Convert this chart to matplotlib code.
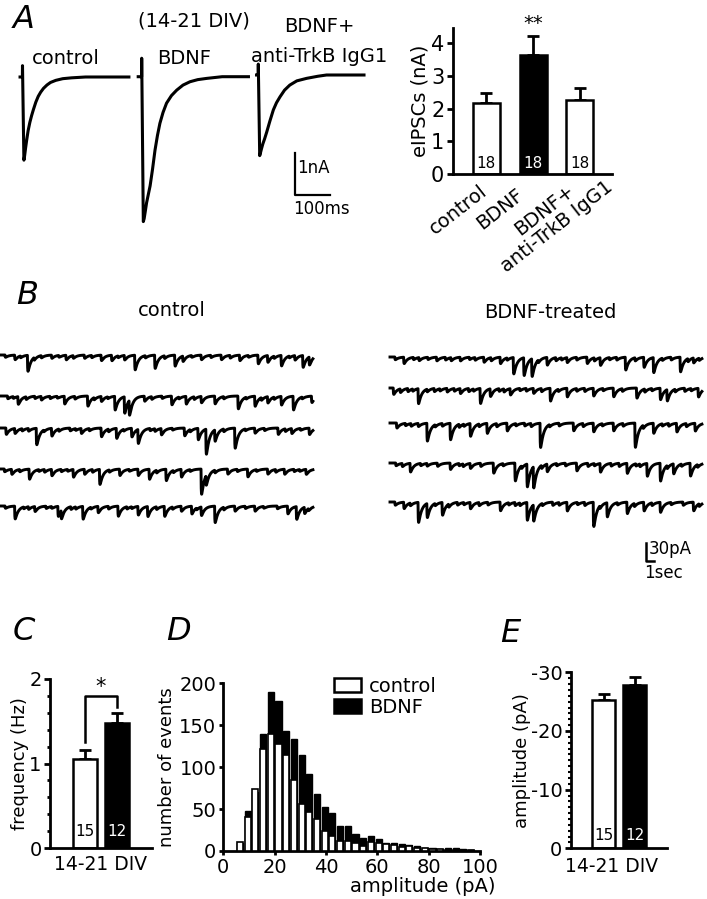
import numpy as np
import matplotlib

matplotlib.use("Agg")
import matplotlib.pyplot as plt
from matplotlib.patches import Patch
from matplotlib.ticker import MultipleLocator

plt.rcParams["font.family"] = ["DejaVu Sans"]

W, H = 707, 899

# ---- panel A: evoked IPSC traces (ms from stimulus, nA from baseline) ----
ctrl_trace_t = [-7, -0.3, 0, 4, 6, 9, 12, 16, 21, 26, 31, 38, 45, 52, 60, 70, 80, 95, 115, 140, 180, 240, 304]
ctrl_trace_i = [0, 0, 0.27, -1.98, -1.88, -1.68, -1.5, -1.28, -1.08, -0.92, -0.78, -0.6, -0.46, -0.36,
                -0.27, -0.19, -0.13, -0.08, -0.04, -0.02, 0, 0, 0]
bdnf_trace_t = [-10, -0.3, 0, 4.6, 7, 10, 14, 19, 24, 31, 38, 45, 52, 61, 71, 85, 100, 118, 138, 160, 186, 230, 305]
bdnf_trace_i = [0, 0, 0.44, -3.45, -3.38, -3.22, -3.0, -2.8, -2.6, -2.2, -1.75, -1.4, -1.11, -0.85, -0.63,
                -0.45, -0.32, -0.2, -0.12, -0.07, -0.04, 0, 0]
trkb_trace_t = [-5, -0.3, 0, 4, 6, 9, 13, 18, 24, 33, 43, 52, 62, 75, 90, 110, 138, 170, 195, 302]
trkb_trace_i = [0, 0, 0.26, -1.92, -1.86, -1.76, -1.64, -1.52, -1.36, -1.1, -0.83, -0.66, -0.52, -0.36,
                -0.24, -0.14, -0.08, -0.03, 0, 0]

# ---- panel A: eIPSC bar graph ----
a_groups = ["control", "BDNF", "BDNF+\nanti-TrkB IgG1"]
a_mean = [2.16, 3.62, 2.26]
a_sem = [0.31, 0.58, 0.36]
a_n = [18, 18, 18]

# ---- panel B: spontaneous events per sweep (s, pA) ----
ctrl_ev_t = [
    [1.7, 3.3, 6.3, 8.1, 10.4, 12.5, 13.8, 15.4, 16.7, 19.2, 21.7, 22.7, 25.0, 27.5, 29.8, 32.1, 33.3, 35.0, 36.7, 37.7, 38.5],
    [0.8, 2.1, 5.0, 7.9, 10.8, 12.5, 14.2, 15.4, 16.0, 17.9, 21.3, 23.1, 25.0, 26.7, 29.6, 31.7, 33.3, 35.0, 36.5, 38.8],
    [0.6, 1.7, 4.4, 6.3, 10.0, 12.5, 14.4, 16.3, 17.1, 20.0, 22.9, 24.6, 25.6, 26.7, 29.2, 31.7, 34.6, 36.3, 38.5],
    [1.3, 3.5, 6.3, 9.0, 10.4, 12.3, 14.8, 17.1, 18.5, 20.6, 22.5, 25.0, 25.6, 28.3, 30.8, 33.3, 35.4, 38.1],
    [1.7, 4.2, 7.1, 7.5, 10.2, 12.1, 14.6, 17.1, 18.3, 20.4, 22.5, 23.8, 25.0, 26.7, 29.2, 31.7, 35.8, 36.9, 37.9],
]
ctrl_ev_a = [
    [10, 35, 7, 10, 7, 12, 12, 10, 32, 29, 24, 12, 10, 10, 12, 19, 15, 23, 10, 26, 18],
    [6, 17, 8, 17, 22, 11, 30, 36, 33, 11, 19, 17, 14, 17, 28, 22, 14, 19, 30, 14],
    [14, 11, 36, 17, 11, 19, 22, 19, 31, 14, 17, 25, 55, 25, 44, 11, 14, 11, 14],
    [11, 22, 14, 17, 11, 33, 14, 14, 22, 25, 17, 55, 22, 11, 17, 11, 11, 11],
    [28, 11, 22, 19, 28, 14, 22, 19, 22, 22, 11, 17, 19, 36, 11, 11, 17, 28, 14],
]
ctrl_small_t = [
    [0.5, 2.4, 4.1, 5.0, 7.2, 9.0, 11.3, 14.6, 18.0, 20.4, 23.8, 26.2, 28.6, 30.9, 34.1, 36.0],
    [1.5, 3.1, 4.2, 6.1, 7.0, 9.2, 11.6, 13.3, 18.8, 20.1, 22.2, 24.1, 27.8, 30.6, 32.5, 34.1, 37.6],
    [2.6, 3.4, 5.3, 7.2, 8.6, 9.3, 11.0, 13.4, 15.3, 18.6, 19.2, 21.4, 23.6, 27.8, 30.5, 32.9, 35.5, 37.4],
    [0.4, 2.3, 4.7, 5.4, 7.5, 8.3, 11.4, 13.5, 16.0, 19.4, 21.5, 23.6, 26.7, 29.5, 31.9, 34.3, 36.6, 37.3],
    [0.5, 2.8, 3.4, 5.6, 6.3, 8.7, 9.3, 11.2, 13.4, 15.7, 16.3, 19.4, 21.4, 24.4, 27.8, 30.5, 32.8, 34.5, 38.4],
]
ctrl_small_a = [
    [5, 4, 6, 5, 4, 6, 5, 4, 5, 6, 4, 5, 6, 4, 5, 4],
    [4, 6, 5, 5, 4, 6, 5, 4, 6, 5, 4, 6, 5, 4, 6, 5, 4],
    [5, 6, 4, 5, 6, 4, 5, 6, 4, 5, 6, 4, 5, 6, 4, 5, 6, 4],
    [6, 5, 4, 6, 5, 4, 6, 5, 4, 6, 5, 4, 6, 5, 4, 6, 5, 4],
    [5, 4, 6, 5, 4, 6, 5, 4, 6, 5, 4, 6, 5, 4, 6, 5, 4, 6, 5],
]
bdnf_ev_t = [
    [1.7, 5.8, 8.75, 11.7, 13.75, 15.4, 16.7, 17.7, 19.6, 22.1, 24.6, 26.25, 29.4, 31.7, 32.9, 36.25, 37.9],
    [0.4, 1.25, 3.5, 7.1, 8.75, 11.25, 12.5, 15.0, 17.9, 20.0, 22.1, 25.4, 27.9, 30.8, 33.75, 34.6, 38.5],
    [0.8, 4.6, 7.5, 10.0, 12.1, 14.6, 18.75, 22.9, 25.4, 27.9, 30.6, 32.9, 35.8, 38.1],
    [2.5, 7.5, 10.0, 12.9, 15.6, 17.1, 17.9, 19.6, 23.3, 26.25, 29.6, 32.1, 33.75, 35.4, 37.5],
    [1.7, 3.5, 4.6, 6.5, 10.0, 13.75, 17.1, 17.9, 22.1, 25.4, 27.1, 29.6, 31.7, 33.75, 37.9],
]
bdnf_ev_a = [
    [14, 8, 8, 11, 14, 36, 39, 39, 17, 11, 14, 17, 28, 22, 33, 32, 11],
    [14, 8, 33, 8, 11, 33, 17, 14, 11, 28, 19, 17, 19, 22, 25, 25, 19],
    [11, 39, 36, 28, 22, 17, 53, 17, 19, 17, 53, 22, 19, 17],
    [19, 14, 11, 22, 39, 50, 47, 17, 17, 19, 22, 28, 39, 22, 28],
    [14, 44, 31, 28, 14, 19, 39, 36, 19, 53, 31, 25, 19, 22, 19],
]
bdnf_small_t = [
    [0.6, 2.9, 3.6, 4.7, 6.9, 7.6, 9.9, 10.6, 12.6, 14.6, 18.5, 20.7, 21.4, 23.3, 25.5, 27.4, 28.3, 30.6, 34.0, 35.1, 37.2, 38.6],
    [2.2, 2.8, 4.6, 5.5, 6.2, 8.0, 9.8, 10.4, 13.6, 14.2, 16.2, 17.0, 18.9, 21.0, 23.3, 24.3, 26.6, 29.0, 31.8, 32.7, 35.6, 36.8, 37.6],
    [1.9, 2.6, 3.5, 5.6, 6.5, 8.6, 9.2, 11.1, 13.3, 15.7, 16.8, 17.6, 19.9, 21.1, 24.1, 26.5, 29.1, 31.6, 34.0, 34.8, 37.0],
    [0.7, 1.5, 3.8, 4.6, 5.9, 8.6, 9.1, 11.3, 14.1, 16.4, 18.9, 20.8, 21.9, 24.7, 25.5, 27.6, 28.6, 30.7, 31.2, 34.6, 36.4, 38.4],
    [0.6, 2.5, 5.6, 7.3, 8.4, 9.2, 11.1, 12.2, 14.8, 15.6, 16.2, 19.0, 20.3, 21.1, 23.4, 24.3, 26.2, 28.4, 30.5, 32.7, 35.1, 36.6, 38.6],
]
bdnf_small_a = [
    [6, 5, 7, 5, 6, 7, 5, 6, 7, 5, 6, 7, 5, 6, 7, 5, 6, 7, 5, 6, 7, 5],
    [7, 5, 6, 7, 5, 6, 7, 5, 6, 7, 5, 6, 7, 5, 6, 7, 5, 6, 7, 5, 6, 7, 5],
    [5, 6, 7, 5, 6, 7, 5, 6, 7, 5, 6, 7, 5, 6, 7, 5, 6, 7, 5, 6, 7],
    [6, 7, 5, 6, 7, 5, 6, 7, 5, 6, 7, 5, 6, 7, 5, 6, 7, 5, 6, 7, 5, 6],
    [7, 6, 5, 7, 6, 5, 7, 6, 5, 7, 6, 5, 7, 6, 5, 7, 6, 5, 7, 6, 5, 7, 6],
]
ctrl_baseline_px = [355, 396, 428, 469, 506]
bdnf_baseline_px = [357, 388, 423, 463, 502]

# ---- panel C / E: frequency and amplitude ----
c_mean = [1.05, 1.48]
c_sem = [0.11, 0.12]
c_n = [15, 12]
e_mean = [-25.2, -27.9]
e_sem = [1.1, 1.3]
e_n = [15, 12]

# ---- panel D: amplitude histogram ----
d_bins = [6.5, 9.5, 12.5, 15.5, 18.5, 21.5, 24.5, 27.5, 30.5, 33.5, 36.5, 39.5, 42.5, 45.5, 48.5, 51.5,
          54.5, 57.5, 60.5, 63.5, 66.5, 69.5, 72.5, 75.5, 78.5, 81.5, 84.5, 87.5, 90.5, 93.5, 96.5]
d_control = [11, 41, 74, 122, 139, 128, 114, 85, 56, 47, 38, 24, 18, 12, 12, 10,
             6, 11, 10, 8, 7, 5, 6, 4, 3, 2, 2, 1, 1, 1, 1]
d_bdnf = [9, 48, 70, 140, 190, 179, 143, 134, 115, 92, 68, 53, 45, 30, 30, 20,
          15, 18, 14, 10, 9, 8, 7, 6, 4, 3, 2, 4, 3, 2, 1]

fig = plt.figure(figsize=(W / 100, H / 100), dpi=100)
fig.patch.set_facecolor("white")


def px_axes(x0, y0, x1, y1):
    return fig.add_axes([x0 / W, 1 - y1 / H, (x1 - x0) / W, (y1 - y0) / H])


def trace_axes(x0, y0, x1, y1, sx, sy):
    ax = px_axes(x0, y0, x1, y1)
    ax.set_xlim(x0 / sx, x1 / sx)
    ax.set_ylim(-y1 / sy, -y0 / sy)
    ax.axis("off")
    return ax


def ftext(x, y, s, **kw):
    fig.text(x / W, 1 - y / H, s, **kw)


def style_axes(ax, labelsize=14):
    ax.spines[["top", "right"]].set_visible(False)
    for side in ("left", "bottom"):
        ax.spines[side].set_linewidth(2.0)
    ax.tick_params(direction="out", length=4, width=2, labelsize=labelsize, pad=2)
    ax.patch.set_alpha(0)


def event_sweep(times, amps, t):
    cur = np.zeros_like(t)
    for ti, ai in zip(times, amps):
        d = t - ti
        on = d >= 0
        cur[on] -= ai * (1 - np.exp(-d[on] / 0.03)) * np.exp(-d[on] / 0.4)
    return cur


letter = dict(fontsize=23, style="italic", ha="left", va="center")
ftext(13, 19, "A", **letter)
ftext(16, 295, "B", **letter)
ftext(13, 632, "C", **letter)
ftext(166, 632, "D", **letter)
ftext(500, 633, "E", **letter)

# ---- A traces ----
sx, sy = 0.35, 42.0
ax = trace_axes(0, 40, 380, 235, sx, sy)
for tt, ii, xs, yb in ((ctrl_trace_t, ctrl_trace_i, 22.5, 77),
                       (bdnf_trace_t, bdnf_trace_i, 141.7, 76.7),
                       (trkb_trace_t, trkb_trace_i, 258.3, 75)):
    ax.plot(np.array(tt) + xs / sx, np.array(ii) - yb / sy, color="black", lw=2.2,
            solid_joinstyle="round", clip_on=False)
bx, by = 294.5 / sx, -195 / sy
ax.plot([bx, bx, bx + 100], [by + 1, by, by], color="black", lw=1.6, clip_on=False)
ftext(297, 168, "1nA", fontsize=12, ha="left", va="center")
ftext(293, 209, "100ms", fontsize=12, ha="left", va="center")
ftext(66, 59, "control", fontsize=14, ha="center", va="center")
ftext(194, 21, "(14-21 DIV)", fontsize=14, ha="center", va="center")
ftext(184, 58, "BDNF", fontsize=14, ha="center", va="center")
ftext(319, 26, "BDNF+", fontsize=14, ha="center", va="center")
ftext(319, 56, "anti-TrkB IgG1", fontsize=14, ha="center", va="center")

# ---- A bar graph ----
ax = px_axes(452.7, 28.3, 611.7, 174)
style_axes(ax, labelsize=15)
xa = np.arange(len(a_mean))
ax.bar(xa, a_mean, width=0.58, color=["white", "black", "white"], edgecolor="black", linewidth=1.8, zorder=2)
ax.errorbar(xa, a_mean, yerr=[[0] * 3, a_sem], fmt="none", ecolor="black", elinewidth=2, capsize=4.5,
            capthick=2, zorder=1)
for x, n, c in zip(xa, a_n, ["black", "white", "black"]):
    ax.text(x, 0.33, str(n), color=c, fontsize=11, ha="center", va="center", zorder=3)
ax.set_xlim(-0.72, 2.68)
ax.set_ylim(0, 4.45)
ax.set_yticks([0, 1, 2, 3, 4])
ax.set_xticks([])
ax.set_ylabel("eIPSCs (nA)", fontsize=14, labelpad=1)
ax.text(1, 4.6, "**", fontsize=14, ha="center", va="center")
rot = dict(rotation=38, ha="right", va="top", rotation_mode="anchor", fontsize=14)
ftext(479, 181, a_groups[0], **rot)
ftext(515, 185, a_groups[1], **rot)
ftext(592, 161, a_groups[2], multialignment="center", linespacing=1.1, **rot)

# ---- B sweeps ----
sx, sy = 8.0, 0.6
t = np.arange(0, 39, 0.01)
ax = trace_axes(0, 320, 330, 540, sx, sy)
for k, yb in enumerate(ctrl_baseline_px):
    cur = event_sweep(ctrl_ev_t[k], ctrl_ev_a[k], t) + event_sweep(ctrl_small_t[k], ctrl_small_a[k], t)
    ax.plot(t + 1 / sx, cur - yb / sy, color="black", lw=2.1, clip_on=False)
ax = trace_axes(380, 320, 707, 590, sx, sy)
for k, yb in enumerate(bdnf_baseline_px):
    cur = event_sweep(bdnf_ev_t[k], bdnf_ev_a[k], t) + event_sweep(bdnf_small_t[k], bdnf_small_a[k], t)
    ax.plot(t + 390 / sx, cur - yb / sy, color="black", lw=2.1, clip_on=False)
bx, by = 646 / sx, -561 / sy
ax.plot([bx, bx, bx + 1], [by + 30, by, by], color="black", lw=1.8, clip_on=False)
ftext(649, 549, "30pA", fontsize=12, ha="left", va="center")
ftext(644, 573, "1sec", fontsize=12, ha="left", va="center")
ftext(172, 311, "control", fontsize=14, ha="center", va="center")
ftext(550, 312, "BDNF-treated", fontsize=14, ha="center", va="center")

# ---- C frequency ----
ax = px_axes(50, 679, 151.7, 848)
style_axes(ax)
xc = np.arange(2)
ax.bar(xc, c_mean, width=0.75, color=["white", "black"], edgecolor="black", linewidth=1.8, zorder=2)
ax.errorbar(xc, c_mean, yerr=[[0, 0], c_sem], fmt="none", ecolor="black", elinewidth=2, capsize=4.5,
            capthick=2, zorder=1)
for x, n, c in zip(xc, c_n, ["black", "white"]):
    ax.text(x, 0.2, str(n), color=c, fontsize=11, ha="center", va="center", zorder=3)
ax.plot([0, 0, 1, 1], [1.26, 1.8, 1.8, 1.67], color="black", lw=1.8)
ax.text(0.5, 1.9, "*", fontsize=15, ha="center", va="center")
ax.set_xlim(-1.094, 2.08)
ax.set_ylim(0, 2)
ax.set_yticks([0, 1, 2])
ax.yaxis.set_minor_locator(MultipleLocator(0.2))
ax.tick_params(which="minor", direction="out", length=2.5, width=2)
ax.set_xticks([])
ax.set_ylabel("frequency (Hz)", fontsize=13, labelpad=0)
ftext(101, 864, "14-21 DIV", fontsize=13.5, ha="center", va="center")

# ---- D histogram ----
ax = px_axes(223.3, 683.3, 480, 851)
style_axes(ax)
ax.bar(d_bins, d_bdnf, width=2.4, color="black", edgecolor="black", linewidth=1.0, zorder=2)
ax.bar(d_bins, d_control, width=2.4, color="white", edgecolor="black", linewidth=1.2, zorder=3)
ax.set_xlim(0, 100)
ax.set_ylim(0, 200)
ax.set_xticks([0, 20, 40, 60, 80, 100])
ax.set_yticks([0, 50, 100, 150, 200])
ax.tick_params(length=3)
ax.set_ylabel("number of events", fontsize=13, labelpad=2)
ftext(495, 887, "amplitude (pA)", fontsize=14, ha="right", va="center")
handles = [Patch(facecolor="white", edgecolor="black", linewidth=1.8),
           Patch(facecolor="black", edgecolor="black", linewidth=1.8)]
ax.legend(handles, ["control", "BDNF"], loc="upper left", bbox_to_anchor=(0.43, 1.04), frameon=False,
          fontsize=14, handlelength=1.4, handleheight=0.7, handletextpad=0.4, labelspacing=0.1,
          borderpad=0, borderaxespad=0)

# ---- E amplitude ----
ax = px_axes(570.7, 672.3, 666.7, 848.3)
style_axes(ax)
xe = np.arange(2)
ax.bar(xe, e_mean, width=0.73, color=["white", "black"], edgecolor="black", linewidth=1.8, zorder=2)
ax.errorbar(xe, e_mean, yerr=[e_sem, [0, 0]], fmt="none", ecolor="black", elinewidth=2, capsize=4.5,
            capthick=2, zorder=1)
for x, n, c in zip(xe, e_n, ["black", "white"]):
    ax.text(x, -2.2, str(n), color=c, fontsize=11, ha="center", va="center", zorder=3)
ax.set_xlim(-1.07, 2.04)
ax.set_ylim(0, -30)
ax.set_yticks([0, -10, -20, -30])
ax.set_yticklabels(["0", "-10", "-20", "-30"])
ax.yaxis.set_minor_locator(MultipleLocator(1))
ax.tick_params(which="minor", direction="out", length=2.5, width=1.5)
ax.set_xticks([])
ax.set_ylabel("amplitude (pA)", fontsize=13, labelpad=0)
ftext(612, 867, "14-21 DIV", fontsize=13.5, ha="center", va="center")

fig.savefig("out.png", dpi=100, facecolor="white")
